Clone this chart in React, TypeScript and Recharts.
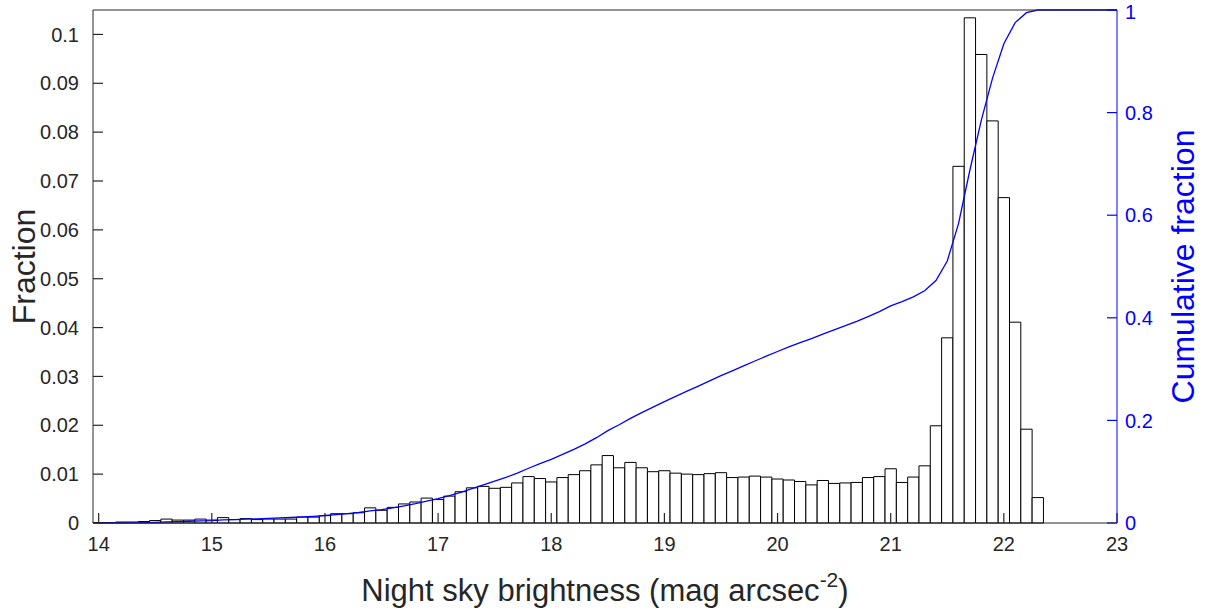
import React from "react";
import {
  ComposedChart,
  Bar,
  Line,
  XAxis,
  YAxis,
  ReferenceLine,
  Label,
} from "recharts";

// bin centres (mag arcsec^-2), 0.1 mag wide
const binCenters = [
  14.0, 14.1, 14.2, 14.3, 14.4, 14.5, 14.6, 14.7, 14.8, 14.9,
  15.0, 15.1, 15.2, 15.3, 15.4, 15.5, 15.6, 15.7, 15.8, 15.9,
  16.0, 16.1, 16.2, 16.3, 16.4, 16.5, 16.6, 16.7, 16.8, 16.9,
  17.0, 17.1, 17.2, 17.3, 17.4, 17.5, 17.6, 17.7, 17.8, 17.9,
  18.0, 18.1, 18.2, 18.3, 18.4, 18.5, 18.6, 18.7, 18.8, 18.9,
  19.0, 19.1, 19.2, 19.3, 19.4, 19.5, 19.6, 19.7, 19.8, 19.9,
  20.0, 20.1, 20.2, 20.3, 20.4, 20.5, 20.6, 20.7, 20.8, 20.9,
  21.0, 21.1, 21.2, 21.3, 21.4, 21.5, 21.6, 21.7, 21.8, 21.9,
  22.0, 22.1, 22.2, 22.3, 22.4, 22.5, 22.6, 22.7, 22.8, 22.9,
  23.0,
];

// histogram, fraction of measurements per bin
const fraction: (number | null)[] = [
  0.0001, 0.0001, 0.0002, 0.0002, 0.0003, 0.0005, 0.0008, 0.0006, 0.0006, 0.0008,
  0.0006, 0.0011, 0.0007, 0.0009, 0.0007, 0.0008, 0.0008, 0.0008, 0.0012, 0.0012,
  0.0015, 0.0019, 0.0019, 0.0021, 0.0031, 0.0026, 0.0032, 0.0039, 0.0043, 0.0051,
  0.0048, 0.0055, 0.0064, 0.0072, 0.0075, 0.0071, 0.0073, 0.0082, 0.0095, 0.0091,
  0.0084, 0.0093, 0.0099, 0.0107, 0.0119, 0.0138, 0.0113, 0.0124, 0.0113, 0.0105,
  0.0107, 0.0102, 0.01, 0.0099, 0.0101, 0.0103, 0.0093, 0.0094, 0.0096, 0.0094,
  0.009, 0.0088, 0.0085, 0.0078, 0.0087, 0.0081, 0.0082, 0.0083, 0.0093, 0.0095,
  0.0111, 0.0083, 0.0094, 0.0117, 0.0199, 0.0379, 0.073, 0.1034, 0.0959, 0.0823,
  0.0666, 0.0411, 0.0192, 0.0052, null, null, null, null, null, null,
  null,
];

// cumulative fraction at each bin centre
const cumulative = [
  0.0001, 0.0002, 0.0004, 0.0006, 0.0009, 0.0014, 0.0022, 0.0028, 0.0034, 0.0042,
  0.0048, 0.0059, 0.0066, 0.0075, 0.0082, 0.009, 0.0099, 0.0107, 0.0119, 0.0131,
  0.0146, 0.0165, 0.0184, 0.0205, 0.0236, 0.0262, 0.0295, 0.0334, 0.0377, 0.0428,
  0.0476, 0.0532, 0.0596, 0.0668, 0.0744, 0.0815, 0.0889, 0.0971, 0.1067, 0.1158,
  0.1242, 0.1336, 0.1435, 0.1543, 0.1663, 0.1801, 0.1915, 0.204, 0.2153, 0.2259,
  0.2366, 0.2469, 0.2569, 0.2669, 0.277, 0.2874, 0.2967, 0.3062, 0.3158, 0.3253,
  0.3343, 0.3432, 0.3517, 0.3596, 0.3683, 0.3764, 0.3847, 0.393, 0.4024, 0.4119,
  0.4231, 0.4314, 0.4409, 0.4527, 0.4727, 0.5108, 0.5841, 0.6881, 0.7845, 0.8672,
  0.9341, 0.9754, 0.9948, 1.0, 1.0, 1.0, 1.0, 1.0, 1.0, 1.0,
  1.0,
];

const xTicks = [14, 15, 16, 17, 18, 19, 20, 21, 22, 23];
const fractionTicks = [0, 0.01, 0.02, 0.03, 0.04, 0.05, 0.06, 0.07, 0.08, 0.09, 0.1];
const cumulativeTicks = [0, 0.2, 0.4, 0.6, 0.8, 1];

const data = binCenters.map((mag, i) => ({
  mag,
  fraction: fraction[i],
  cumulative: cumulative[i],
}));

const X_DOMAIN: [number, number] = [13.95, 23];
const FRACTION_MAX = 0.105;

// inward tick length, in axis units (about 10px on a 1024x513 plot box)
const X_TICK = FRACTION_MAX * 0.0195;
const Y_TICK = (X_DOMAIN[1] - X_DOMAIN[0]) * 0.0098;

const FONT = "'Liberation Sans', Arial, Helvetica, sans-serif";
const AXIS_GREY = "#262626";
const BLUE = "#0000ff";

const XTitle = ({ viewBox }: any) => {
  const cx = viewBox.x + viewBox.width / 2;
  const y = viewBox.y + 78;
  return (
    <text x={cx} y={y} textAnchor="middle" fontFamily={FONT} fontSize={31} fill={AXIS_GREY}>
      <tspan>Night sky brightness (mag arcsec</tspan>
      <tspan fontSize={21} dy={-14}>-2</tspan>
      <tspan dy={14}>)</tspan>
    </text>
  );
};

const YTitle = ({ viewBox, text, dx, color }: any) => {
  const cx = viewBox.x + dx;
  const cy = viewBox.y + viewBox.height / 2;
  return (
    <text
      x={cx}
      y={cy}
      transform={`rotate(-90, ${cx}, ${cy})`}
      textAnchor="middle"
      dominantBaseline="central"
      fontFamily={FONT}
      fontSize={32}
      fill={color}
    >
      {text}
    </text>
  );
};

export default function App() {
  return (
    <div style={{ position: "absolute", left: 0, top: 0, width: 1206, height: 611, background: "#fff" }}>
      <ComposedChart
        width={1206}
        height={611}
        data={data}
        margin={{ top: 10, right: 0, bottom: 0, left: 0 }}
        barCategoryGap={0}
        barGap={0}
      >
        <XAxis
          dataKey="mag"
          type="number"
          domain={X_DOMAIN}
          ticks={xTicks}
          height={88}
          tickSize={0}
          tickMargin={14}
          axisLine={{ stroke: AXIS_GREY }}
          tickLine={false}
          tick={{ fill: AXIS_GREY, fontSize: 20, fontFamily: FONT }}
          label={<Label content={(p: any) => <XTitle {...p} />} />}
        />
        <YAxis
          yAxisId="left"
          orientation="left"
          domain={[0, FRACTION_MAX]}
          ticks={fractionTicks}
          width={93}
          tickSize={0}
          tickMargin={14}
          tickFormatter={(v: number) => String(v)}
          axisLine={{ stroke: AXIS_GREY }}
          tickLine={false}
          tick={{ fill: AXIS_GREY, fontSize: 20, fontFamily: FONT }}
          label={
            <Label
              content={(p: any) => <YTitle {...p} text="Fraction" dx={24} color={AXIS_GREY} />}
            />
          }
        />
        <YAxis
          yAxisId="right"
          orientation="right"
          domain={[0, 1]}
          ticks={cumulativeTicks}
          width={89}
          tickSize={0}
          tickMargin={8}
          tickFormatter={(v: number) => String(v)}
          axisLine={{ stroke: BLUE }}
          tickLine={false}
          tick={{ fill: BLUE, fontSize: 20, fontFamily: FONT }}
          label={
            <Label
              content={(p: any) => <YTitle {...p} text="Cumulative fraction" dx={66} color={BLUE} />}
            />
          }
        />
        <Bar
          yAxisId="left"
          dataKey="fraction"
          fill="#ffffff"
          stroke="#000000"
          strokeWidth={1}
          barSize={11.3}
          isAnimationActive={false}
        />
        <Line
          yAxisId="right"
          dataKey="cumulative"
          type="linear"
          stroke={BLUE}
          strokeWidth={1.3}
          dot={false}
          activeDot={false}
          isAnimationActive={false}
        />
        {/* box top edge */}
        <ReferenceLine yAxisId="left" y={FRACTION_MAX} stroke={AXIS_GREY} />
        {/* inward tick marks */}
        {xTicks.map((t) => (
          <ReferenceLine
            key={`xt-${t}`}
            yAxisId="left"
            segment={[{ x: t, y: 0 }, { x: t, y: X_TICK }]}
            stroke={AXIS_GREY}
            strokeWidth={1.2}
            ifOverflow="visible"
          />
        ))}
        {fractionTicks.map((t) => (
          <ReferenceLine
            key={`lt-${t}`}
            yAxisId="left"
            segment={[{ x: X_DOMAIN[0], y: t }, { x: X_DOMAIN[0] + Y_TICK, y: t }]}
            stroke={AXIS_GREY}
            strokeWidth={1.2}
            ifOverflow="visible"
          />
        ))}
        {cumulativeTicks.map((t) => (
          <ReferenceLine
            key={`rt-${t}`}
            yAxisId="right"
            segment={[{ x: X_DOMAIN[1] - Y_TICK, y: t }, { x: X_DOMAIN[1], y: t }]}
            stroke={BLUE}
            strokeWidth={1.2}
            ifOverflow="visible"
          />
        ))}
      </ComposedChart>
    </div>
  );
}
